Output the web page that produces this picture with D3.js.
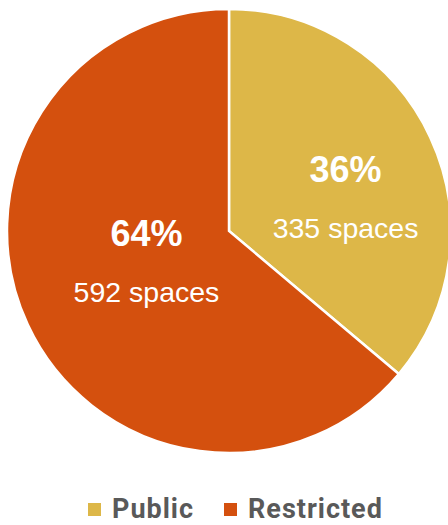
<!DOCTYPE html>
<html>
<head>
<meta charset="utf-8">
<script src="https://cdn.jsdelivr.net/npm/d3@7"></script>
<style>
  html, body { margin: 0; padding: 0; background: #fff; }
  svg { display: block; }
</style>
</head>
<body>
<svg id="chart" width="448" height="525"></svg>
<script>
// Parking spaces by access type
const categories = ["Public", "Restricted"];
const spaces = [335, 592];
const percentLabels = ["36%", "64%"];
const colors = ["#DDB748", "#D4500E"];

const width = 448, height = 525;
const cx = 229, cy = 231, radius = 222;

const svg = d3.select("#chart");
const g = svg.append("g").attr("transform", `translate(${cx},${cy})`);

const pie = d3.pie().sort(null).value(d => d.value);
const data = pie(categories.map((c, i) => ({ name: c, value: spaces[i], pct: percentLabels[i] })));

const arc = d3.arc().innerRadius(0).outerRadius(radius);

g.selectAll("path.slice")
  .data(data)
  .join("path")
  .attr("class", "slice")
  .attr("d", arc)
  .attr("fill", (d, i) => colors[i])
  .attr("stroke", "#fff")
  .attr("stroke-width", 2.5)
  .attr("stroke-linejoin", "miter");

// label anchors: centroid of an inner arc, nudged per slice
const labelArc = d3.arc().innerRadius(0).outerRadius(radius * 0.86);
const nudges = [[30, 16], [4, 0]];

const labels = g.selectAll("g.label")
  .data(data)
  .join("g")
  .attr("class", "label")
  .attr("transform", (d, i) => {
    const [x, y] = labelArc.centroid(d);
    return `translate(${x + nudges[i][0]},${y + nudges[i][1]})`;
  });

labels.append("text")
  .attr("text-anchor", "middle")
  .attr("y", -25)
  .attr("fill", "#fff")
  .style("font-family", "'Liberation Sans', Arial, sans-serif")
  .style("font-weight", "bold")
  .style("font-size", "36px")
  .text(d => d.data.pct);

labels.append("text")
  .attr("text-anchor", "middle")
  .attr("y", 31)
  .attr("fill", "#fff")
  .style("font-family", "'Liberation Sans', Arial, sans-serif")
  .style("font-size", "28.5px")
  .text(d => `${d.data.value} spaces`);

// legend
const legend = svg.append("g").attr("transform", "translate(0,518)");
const legendX = [88, 224];
const items = legend.selectAll("g")
  .data(categories)
  .join("g")
  .attr("transform", (d, i) => `translate(${legendX[i]},0)`);

items.append("rect")
  .attr("x", 0)
  .attr("y", -15)
  .attr("width", 13)
  .attr("height", 13)
  .attr("fill", (d, i) => colors[i]);

items.append("text")
  .attr("x", 24)
  .attr("y", 0)
  .attr("fill", "#595959")
  .style("font-family", "Roboto, sans-serif")
  .style("font-weight", "bold")
  .style("font-size", "27px")
  .style("letter-spacing", "1px")
  .text(d => d);
</script>
</body>
</html>
